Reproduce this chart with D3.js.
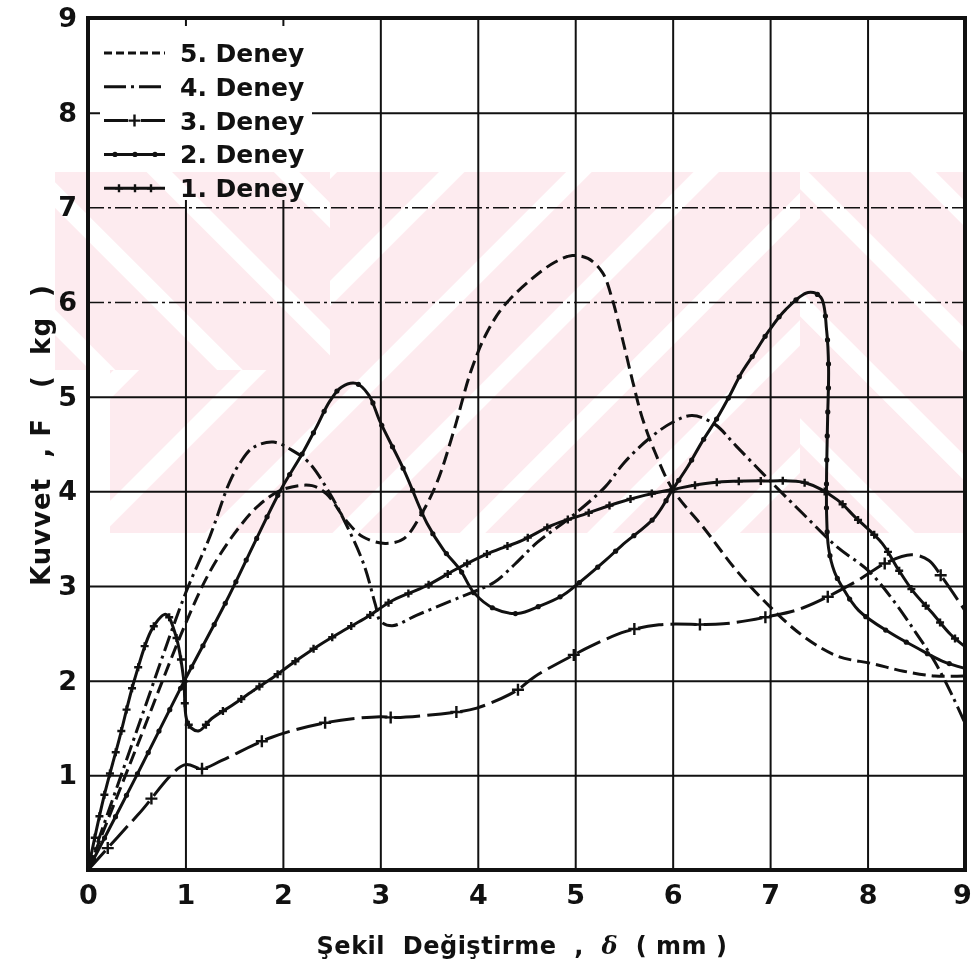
<!DOCTYPE html>
<html>
<head>
<meta charset="utf-8">
<script src="https://cdn.jsdelivr.net/npm/d3@7"></script>
<style>
  body { margin: 0; background: #fff; }
  text { font-family: "DejaVu Sans", sans-serif; font-weight: bold; fill: #111; }
</style>
</head>
<body>
<div id="chart"></div>
<script>
// tick labels
var xTicks = [0, 1, 2, 3, 4, 5, 6, 7, 8, 9];
var yTicks = [1, 2, 3, 4, 5, 6, 7, 8, 9];
var legendLabels = ["5. Deney", "4. Deney", "3. Deney", "2. Deney", "1. Deney"];

// curves: [deformation mm, force kg]
var deney5 = [[0,0],[0.5,1.3],[1,2.6],[1.25,3.15],[1.5,3.55],[1.75,3.85],[2,4.02],[2.3,4.06],[2.45,3.97],
  [2.65,3.69],[2.82,3.52],[3.05,3.45],[3.24,3.5],[3.41,3.74],[3.58,4.09],[3.76,4.66],[3.93,5.27],[4.09,5.67],
  [4.27,5.96],[4.55,6.24],[4.79,6.42],[4.97,6.49],[5.13,6.46],[5.28,6.31],[5.38,6.03],[5.48,5.63],[5.59,5.16],
  [5.69,4.77],[5.82,4.41],[6,4.02],[6.33,3.6],[6.65,3.17],[6.99,2.79],[7.34,2.47],[7.69,2.26],[8.05,2.18],
  [8.37,2.1],[8.69,2.05],[9,2.05]];

var deney4 = [[0,0],[0.5,1.47],[1,2.92],[1.25,3.52],[1.45,4.09],[1.56,4.3],[1.69,4.46],[1.9,4.52],[2.1,4.43],
  [2.27,4.3],[2.48,3.98],[2.65,3.65],[2.83,3.23],[2.95,2.8],[3,2.63],[3.12,2.58],[3.37,2.69],[3.72,2.84],
  [3.96,2.94],[4.17,3.04],[4.38,3.23],[4.61,3.46],[4.97,3.74],[5.31,4.05],[5.5,4.3],[5.75,4.55],[6,4.73],
  [6.2,4.8],[6.43,4.71],[6.65,4.48],[6.99,4.12],[7.34,3.76],[7.69,3.41],[8.01,3.16],[8.27,2.84],[8.5,2.5],
  [8.69,2.2],[8.88,1.82],[9,1.55]];

var deney3 = [[0,0],[0.51,0.58],[0.99,1.11],[1.17,1.07],[1.38,1.16],[1.88,1.4],[2.46,1.56],[3,1.62],[3.16,1.61],
  [3.79,1.67],[3.99,1.71],[4.39,1.89],[4.58,2.04],[5,2.28],[5.15,2.36],[5.52,2.52],[5.86,2.59],[6.52,2.6],
  [7,2.68],[7.34,2.77],[7.87,3.04],[8.2,3.25],[8.45,3.33],[8.63,3.27],[8.76,3.1],[9,2.74]];

var deney2 = [[0,0],[0.5,1],[0.99,2],[1.41,2.82],[1.72,3.48],[1.98,4.02],[2.2,4.4],[2.34,4.67],[2.48,4.95],
  [2.6,5.1],[2.75,5.14],[2.88,5.02],[3,4.73],[3.24,4.23],[3.48,3.66],[3.65,3.38],[3.82,3.17],[3.96,2.93],
  [4.17,2.76],[4.41,2.71],[4.64,2.79],[4.87,2.9],[5,3],[5.31,3.27],[5.48,3.43],[5.82,3.73],[6,4.02],
  [6.16,4.27],[6.3,4.52],[6.46,4.78],[6.59,5.02],[6.7,5.24],[6.84,5.46],[6.99,5.7],[7.16,5.92],[7.39,6.1],
  [7.52,6.05],[7.58,5.7],[7.6,5.3],[7.59,4.76],[7.58,4.22],[7.58,3.75],[7.6,3.4],[7.66,3.15],[7.74,2.99],
  [7.91,2.74],[8.24,2.5],[8.5,2.35],[8.76,2.21],[9,2.13]];

var deney1 = [[0,0],[0.16,0.76],[0.32,1.38],[0.48,2.02],[0.66,2.55],[0.8,2.7],[0.9,2.48],[0.98,2.03],[1.01,1.6],
  [1.06,1.5],[1.14,1.47],[1.27,1.6],[1.48,1.74],[1.69,1.89],[1.92,2.05],[2.12,2.2],[2.38,2.38],[2.64,2.54],
  [2.86,2.67],[3.13,2.85],[3.47,3],[3.8,3.19],[4.12,3.35],[4.45,3.48],[4.76,3.64],[5.1,3.76],[5.44,3.88],
  [5.72,3.96],[6,4.02],[6.4,4.09],[6.99,4.11],[7.36,4.09],[7.69,3.91],[7.87,3.73],[8.15,3.45],[8.3,3.2],
  [8.47,2.94],[8.66,2.72],[8.85,2.49],[9,2.36]];

var width = 973, height = 965;
var plotL = 88, plotR = 965, plotT = 18, plotB = 870;
var ink = '#111';

var svg = d3.select('#chart').append('svg')
  .attr('width', width)
  .attr('height', height);

var x = d3.scaleLinear().domain([0, 9]).range([plotL, plotR]);
var y = d3.scaleLinear().domain([0, 9]).range([plotB, plotT]);

// grid + tick labels
var gx = svg.append('g')
  .attr('transform', 'translate(0,' + plotB + ')')
  .call(d3.axisBottom(x).tickValues(xTicks).tickSize(-(plotB - plotT)).tickPadding(15));
var gy = svg.append('g')
  .attr('transform', 'translate(' + plotL + ',0)')
  .call(d3.axisLeft(y).tickValues(yTicks).tickSize(-(plotR - plotL)).tickPadding(11));

[gx, gy].forEach(function(g){
  g.select('.domain').remove();
  g.attr('font-family', null).attr('font-size', 27).attr('color', ink);
  g.selectAll('line').attr('stroke', ink).attr('stroke-width', 2);
});
gx.selectAll('.tick').filter(function(d){ return d == 9; }).select('text').attr('dx', -3);
// the 6 and 7 lines came out broken in the scan
gy.selectAll('.tick').filter(function(d){ return d == 6 || d == 7; })
  .select('line').attr('stroke-dasharray', '16 4 3 4').attr('stroke-width', 1.5);

// legend sits on a blank patch of the grid
svg.append('rect')
  .attr('x', 100).attr('y', 26).attr('width', 212).attr('height', 174)
  .attr('fill', '#fff');

// pale watermark hatch
var defs = svg.append('defs');
var hatch = function(id, angle){
  var p = defs.append('pattern')
    .attr('id', id)
    .attr('patternUnits', 'userSpaceOnUse')
    .attr('width', 90).attr('height', 90)
    .attr('patternTransform', 'rotate(' + angle + ')');
  p.append('rect').attr('width', 72).attr('height', 90).attr('fill', '#fdebef');
};
hatch('hatchBack', -45);
hatch('hatchFwd', 45);

var wm = svg.append('g').style('mix-blend-mode', 'multiply');
var wmBlocks = [
  {x: 55, y: 172, w: 275, h: 198, fill: 'hatchBack'},
  {x: 330, y: 172, w: 470, h: 198, fill: 'hatchFwd'},
  {x: 110, y: 370, w: 690, h: 163, fill: 'hatchFwd'},
  {x: 800, y: 172, w: 165, h: 361, fill: 'hatchBack'}
];
wmBlocks.forEach(function(b){
  wm.append('rect').attr('x', b.x).attr('y', b.y).attr('width', b.w).attr('height', b.h)
    .attr('fill', 'url(#' + b.fill + ')');
});

// frame
svg.append('rect')
  .attr('x', plotL).attr('y', plotT)
  .attr('width', plotR - plotL).attr('height', plotB - plotT)
  .attr('fill', 'none').attr('stroke', ink).attr('stroke-width', 4);

// markers placed along a drawn path
var addMarkers = function(g, node, spacing, offset, kind, size){
  var len = node.getTotalLength();
  for (var s = offset; s < len; s += spacing) {
    var p = node.getPointAtLength(s);
    if (kind == 'dot') {
      g.append('circle').attr('cx', p.x).attr('cy', p.y).attr('r', size).attr('fill', ink);
    } else {
      g.append('path')
        .attr('d', 'M' + (p.x - size) + ',' + p.y + 'H' + (p.x + size) + 'M' + p.x + ',' + (p.y - size) + 'V' + (p.y + size))
        .attr('stroke', ink).attr('stroke-width', 2.4);
    }
  }
};

var series = [
  {data: deney5, dash: '13 6'},
  {data: deney4, dash: '16 5 3 5'},
  {data: deney3, dash: '26 7', marker: 'plus', spacing: 66, offset: 29.5, size: 6},
  {data: deney2, dash: null, marker: 'dot', spacing: 24, offset: 12, size: 2.6},
  {data: deney1, dash: null, marker: 'plus', spacing: 22, offset: 11, size: 4}
];

var line = d3.line()
  .x(function(d){ return x(d[0]); })
  .y(function(d){ return y(d[1]); })
  .curve(d3.curveCatmullRom.alpha(0.5));

var curves = svg.append('g');
series.forEach(function(s){
  var path = curves.append('path')
    .attr('d', line(s.data))
    .attr('fill', 'none')
    .attr('stroke', ink)
    .attr('stroke-width', 3)
    .attr('stroke-linejoin', 'round')
    .attr('stroke-dasharray', s.dash);
  if (s.marker) addMarkers(curves, path.node(), s.spacing, s.offset, s.marker, s.size);
});

// legend
var legend = svg.append('g');
var legendDash = ['8 4', '22 5 3 5', '24 13', null, null];
var legendMarks = [
  null, null,
  {spacing: 100, offset: 30.5},
  {spacing: 20, offset: 11},
  {spacing: 16, offset: 15}
];
legendLabels.forEach(function(label, i){
  var ly = 53 + i * 33.8;
  var s = series[i];
  var sample = legend.append('path')
    .attr('d', 'M104,' + ly + 'H165')
    .attr('stroke', ink).attr('stroke-width', 3)
    .attr('stroke-dasharray', legendDash[i]);
  if (s.marker) addMarkers(legend, sample.node(), legendMarks[i].spacing, legendMarks[i].offset, s.marker, s.size);
  legend.append('text')
    .attr('x', 180).attr('y', ly)
    .attr('dy', '0.36em')
    .attr('font-size', 25)
    .text(label);
});

// axis titles
var xTitle = svg.append('text')
  .attr('x', 522).attr('y', 946)
  .attr('dy', '0.35em')
  .attr('text-anchor', 'middle')
  .attr('font-size', 24)
  .attr('letter-spacing', 0.5)
  .attr('xml:space', 'preserve');
xTitle.append('tspan').text('Şekil  Değiştirme  ,  ');
xTitle.append('tspan').attr('font-family', 'DejaVu Serif').attr('font-style', 'italic').text('δ');
xTitle.append('tspan').text('  ( mm )');

svg.append('text')
  .attr('transform', 'translate(41,435) rotate(-90)')
  .attr('dy', '0.35em')
  .attr('text-anchor', 'middle')
  .attr('font-size', 26)
  .attr('letter-spacing', 1)
  .attr('xml:space', 'preserve')
  .text('Kuvvet  , F   (  kg  )');
</script>
</body>
</html>
